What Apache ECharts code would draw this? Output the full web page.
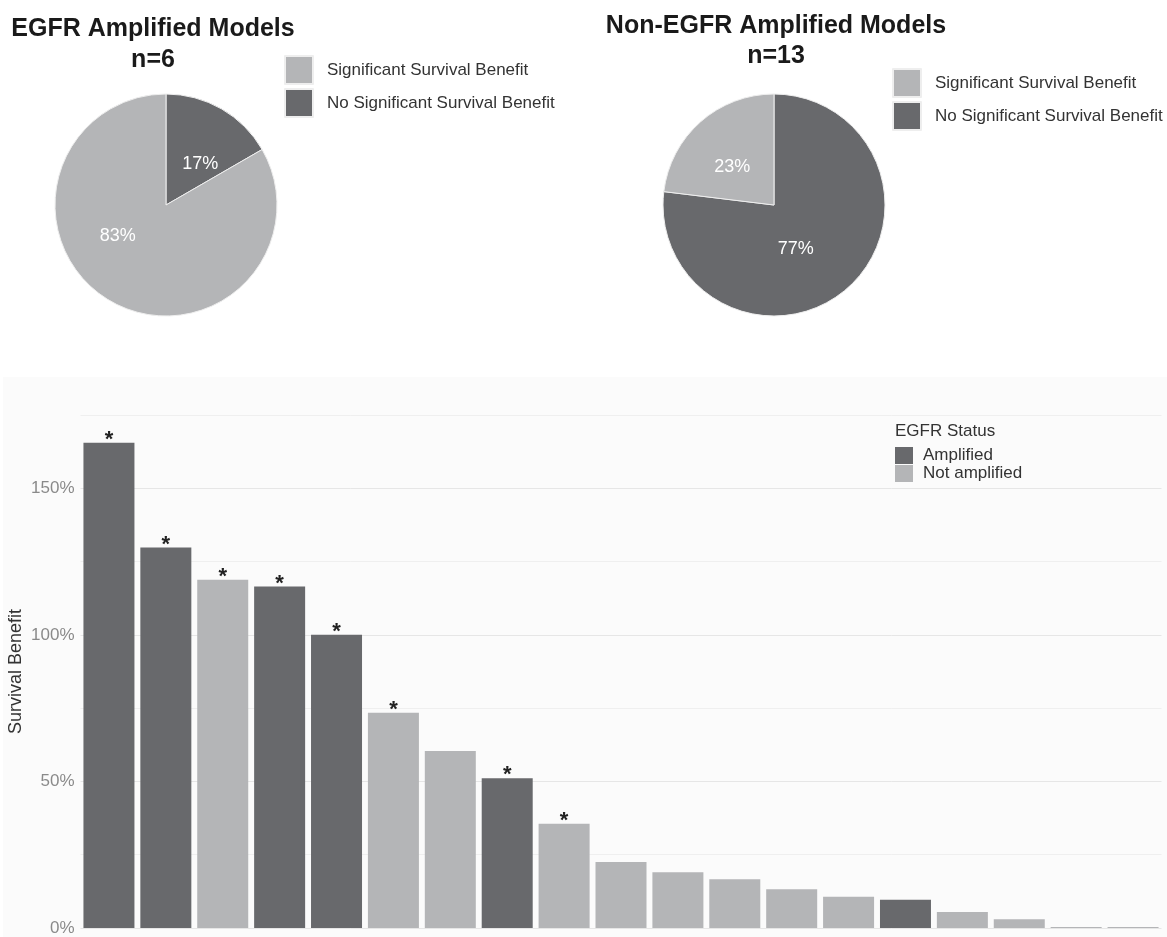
<!DOCTYPE html>
<html>
<head>
<meta charset="utf-8">
<title>EGFR survival benefit</title>
<script src="https://cdn.jsdelivr.net/npm/echarts@6/dist/echarts.min.js"></script>
<style>
  html, body { margin: 0; padding: 0; background: #fff; }
  #chart { width: 1167px; height: 937px; }
</style>
</head>
<body>
<div id="chart"></div>
<script>
  // one entry per PDX model, ordered by survival benefit
  const modelIds = ['1', '2', '3', '4', '5', '6', '7', '8', '9', '10',
    '11', '12', '13', '14', '15', '16', '17', '18', '19'];
  const survivalBenefit = [165.5, 129.8, 118.8, 116.5, 100, 73.4, 60.4, 51.1, 35.6, 22.5,
    19.0, 16.6, 13.2, 10.7, 9.6, 5.5, 3.0, 0.3, 0.3];
  const egfrStatus = ['Amplified', 'Amplified', 'Not amplified', 'Amplified', 'Amplified',
    'Not amplified', 'Not amplified', 'Amplified', 'Not amplified', 'Not amplified',
    'Not amplified', 'Not amplified', 'Not amplified', 'Not amplified', 'Amplified',
    'Not amplified', 'Not amplified', 'Not amplified', 'Not amplified'];
  const significant = [true, true, true, true, true, true, false, true, true, false,
    false, false, false, false, false, false, false, false, false];
  const statusNames = ['Amplified', 'Not amplified'];
  const benefitNames = ['Significant Survival Benefit', 'No Significant Survival Benefit'];
  const yTicks = [0, 50, 100, 150];

  const DARK = '#68696c';
  const LIGHT = '#b4b5b7';
  const FONT = '"Liberation Sans", Arial, Helvetica, sans-serif';
  const statusColor = { 'Amplified': DARK, 'Not amplified': LIGHT };
  const benefitColor = { 'Significant Survival Benefit': LIGHT, 'No Significant Survival Benefit': DARK };

  // pie counts come from the bar data
  function pieData(status) {
    let yes = 0, no = 0;
    for (let i = 0; i < egfrStatus.length; i++) {
      if (egfrStatus[i] !== status) continue;
      if (significant[i]) yes++; else no++;
    }
    // dark slice first so it starts at 12 o'clock like the original
    return [
      { name: benefitNames[1], value: no },
      { name: benefitNames[0], value: yes }
    ];
  }
  const ampPie = pieData('Amplified');
  const nonAmpPie = pieData('Not amplified');
  const nAmp = ampPie[0].value + ampPie[1].value;
  const nNon = nonAmpPie[0].value + nonAmpPie[1].value;

  // labelOffsets: nudge the % labels a bit like the original figure
  function pieSeries(data, center, labelOffsets) {
    return {
      type: 'pie',
      center: center,
      radius: 111,
      startAngle: 90,
      clockwise: true,
      data: data.map(function (d, i) {
        return {
          name: d.name,
          value: d.value,
          itemStyle: { color: benefitColor[d.name] },
          label: { offset: labelOffsets[i] }
        };
      }),
      legendHoverLink: false,
      itemStyle: { borderColor: '#eeeeee', borderWidth: 1 },
      label: {
        position: 'inside',
        color: '#ffffff',
        fontSize: 18,
        fontFamily: FONT,
        formatter: function (p) { return Math.round(p.percent) + '%'; }
      },
      labelLine: { show: false },
      emphasis: { disabled: true }
    };
  }

  function barSeries(status) {
    return {
      name: status,
      type: 'bar',
      stack: 'egfr',
      barWidth: 51,
      itemStyle: { color: statusColor[status] },
      data: survivalBenefit.map(function (v, i) { return egfrStatus[i] === status ? v : '-'; }),
      label: {
        show: true,
        position: 'top',
        distance: -8,
        color: '#222',
        fontSize: 22,
        fontWeight: 'bold',
        fontFamily: FONT,
        formatter: function (p) { return significant[p.dataIndex] ? '*' : ''; }
      },
      emphasis: { disabled: true }
    };
  }

  const pieLegendBase = {
    orient: 'vertical',
    icon: 'rect',
    padding: 0,
    itemWidth: 28,
    itemHeight: 28,
    itemGap: 3,
    selectedMode: false,
    data: benefitNames,
    textStyle: { fontSize: 17, color: '#333', fontFamily: FONT, padding: [0, 0, 0, 9] }
  };

  const myChart = echarts.init(document.getElementById('chart'), null, { renderer: 'canvas' });
  const option = {
    backgroundColor: '#ffffff',
    animation: false,
    graphic: [
      {
        type: 'rect', z: -10, silent: true,
        shape: { x: 3, y: 377, width: 1164, height: 560 },
        style: { fill: '#fbfbfb' }
      },
      {
        type: 'text', x: 153, y: 14,
        style: {
          text: 'EGFR Amplified Models\nn=' + nAmp, textAlign: 'center', fill: '#1a1a1a',
          font: 'bold 25px ' + FONT, lineHeight: 31
        }
      },
      {
        type: 'text', x: 776, y: 11,
        style: {
          text: 'Non-EGFR Amplified Models\nn=' + nNon, textAlign: 'center', fill: '#1a1a1a',
          font: 'bold 25px ' + FONT, lineHeight: 30
        }
      },
      {
        type: 'text', x: 895, y: 423,
        style: { text: 'EGFR Status', fill: '#333', font: '17px ' + FONT }
      }
    ],
    legend: [
      Object.assign({}, pieLegendBase, { left: 284, top: 55 }),
      Object.assign({}, pieLegendBase, { left: 892, top: 68 }),
      {
        orient: 'vertical',
        left: 895,
        top: 447,
        padding: 0,
        icon: 'rect',
        itemWidth: 18,
        itemHeight: 17,
        itemGap: 1,
        selectedMode: false,
        data: statusNames,
        textStyle: { fontSize: 17, color: '#333', fontFamily: FONT, padding: [0, 0, 0, 5] }
      }
    ],
    grid: { left: 80.5, right: 5.5, top: 415, bottom: 9, containLabel: false, outerBoundsMode: 'none' },
    xAxis: {
      type: 'category',
      data: modelIds,
      axisLine: { show: false },
      axisTick: { show: false },
      axisLabel: { show: false },
      splitLine: { show: false }
    },
    yAxis: {
      type: 'value',
      min: 0,
      max: 175,
      interval: 25,
      name: 'Survival Benefit',
      nameLocation: 'middle',
      nameRotate: 90,
      nameGap: 55,
      nameMoveOverlap: false,
      nameTextStyle: { fontSize: 18, color: '#333', fontFamily: FONT },
      axisLine: { show: false },
      axisTick: { show: false },
      axisLabel: {
        margin: 6,
        color: '#8a8a8a',
        fontSize: 17,
        fontFamily: FONT,
        formatter: function (v) { return yTicks.indexOf(v) >= 0 ? v + '%' : ''; }
      },
      splitLine: { lineStyle: { color: ['#e6e6e6', '#efefef'], width: 1 } }
    },
    series: [
      pieSeries(ampPie, [166, 205], [[5, 10], [-19, -20]]),
      pieSeries(nonAmpPie, [774, 205], [[-17, 0], [-3, 6]]),
      barSeries(statusNames[0]),
      barSeries(statusNames[1])
    ]
  };
  myChart.setOption(option, true);
</script>
</body>
</html>
